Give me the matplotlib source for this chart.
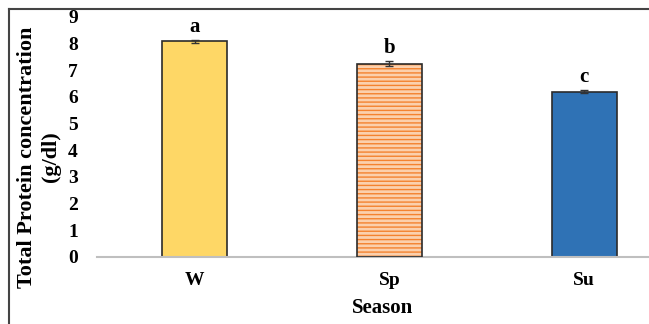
import matplotlib
matplotlib.use("Agg")
import matplotlib.pyplot as plt
from matplotlib.lines import Line2D
import numpy as np

seasons = ["W", "Sp", "Su"]
protein = [8.08, 7.25, 6.2]
errors = [0.05, 0.09, 0.05]
letters = ["a", "b", "c"]

plt.rcParams['font.family'] = ['Liberation Serif', 'DejaVu Serif']
plt.rcParams['font.weight'] = 'bold'

fig = plt.figure(figsize=(6.49, 3.24), dpi=100)
ax = fig.add_axes([0.150, 0.207, 0.900, 0.741])

x = np.arange(len(seasons))
w = 0.334
# W - yellow
ax.bar(x[0], protein[0], w, color='#fed766', edgecolor='#2b2b2b', linewidth=1.2, zorder=2)
# Sp - orange stripes
ax.bar(x[1], protein[1], w, color='#fbd0ad', edgecolor='#f4822f', hatch='----', linewidth=0, zorder=2)
ax.bar(x[1], protein[1], w, fill=False, edgecolor='#2b2b2b', linewidth=1.2, zorder=3)
# Su - blue
ax.bar(x[2], protein[2], w, color='#2f72b5', edgecolor='#2b2b2b', linewidth=1.2, zorder=2)

ax.errorbar(x, protein, yerr=errors, fmt='none', ecolor='#333333', elinewidth=1, capsize=3, zorder=4)
for xi, v, e, t in zip(x, protein, errors, letters):
    ax.text(xi, v + e + 0.12, t, ha='center', va='bottom', fontsize=15, fontweight='bold')

ax.set_xlim(-0.5, 2.5)
ax.set_ylim(0, 9)
ax.set_yticks(range(10))
ax.set_xticks(x)
ax.set_xticklabels(seasons)
ax.tick_params(axis='both', length=0, labelsize=14)
ax.tick_params(axis='x', pad=11)
ax.tick_params(axis='y', pad=14)
for s in ['top', 'right', 'left']:
    ax.spines[s].set_visible(False)
ax.spines['bottom'].set_color('#bfbfbf')
ax.spines['bottom'].set_linewidth(1.5)

fig.text(39/649, 1 - 157/324, "Total Protein concentration\n(g/dl)", rotation=90,
         ha='center', va='center', multialignment='center', fontsize=16, fontweight='bold',
         linespacing=1.3)
fig.text(383/649, 1 - 308/324, "Season", ha='center', va='center', fontsize=15, fontweight='bold')

# outer frame
fig.add_artist(Line2D([8.5/649, 8.5/649], [0, 1 - 9/324], transform=fig.transFigure, color='#444444', lw=1.5))
fig.add_artist(Line2D([8.5/649, 1], [1 - 9/324, 1 - 9/324], transform=fig.transFigure, color='#444444', lw=1.5))

fig.savefig("out.png", dpi=100)
